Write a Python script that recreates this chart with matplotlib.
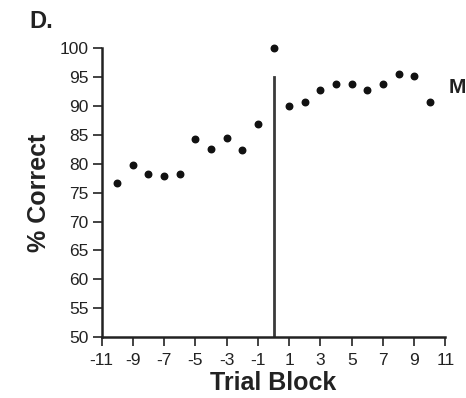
import numpy as np
import matplotlib.pyplot as plt

plt.rcParams['font.family'] = ['Liberation Sans', 'DejaVu Sans']
plt.rcParams['axes.unicode_minus'] = False

# trial blocks and mean % correct
blocks = [-10, -9, -8, -7, -6, -5, -4, -3, -2, -1, 0, 1, 2, 3, 4, 5, 6, 7, 8, 9, 10]
pct_correct = [76.6, 79.8, 78.2, 77.8, 78.3, 84.3, 82.5, 84.5, 82.4, 86.9, 100.0,
               90.0, 90.7, 92.7, 93.8, 93.8, 92.7, 93.8, 95.5, 95.2, 90.7]
xticks = [-11, -9, -7, -5, -3, -1, 1, 3, 5, 7, 9, 11]
yticks = [50, 55, 60, 65, 70, 75, 80, 85, 90, 95, 100]

fig = plt.figure(figsize=(4.66, 3.98), dpi=100)
ax = fig.add_axes([0.218, 0.153, 0.738, 0.726])

ax.scatter(blocks, pct_correct, s=22, color="#111111", zorder=3, clip_on=False)
ax.plot([0, 0], [50, 95], color="#3a3a3a", linewidth=2)

ax.set_xlim(-11, 11)
ax.set_ylim(50, 100)
ax.set_xticks(xticks)
ax.set_yticks(yticks)
ax.tick_params(direction="out", length=6.5, width=1.2, labelsize=12.5, pad=3, colors="#222222")
ax.tick_params(axis="x", pad=5)

for s in ["top", "right"]:
    ax.spines[s].set_visible(False)
for s in ["left", "bottom"]:
    ax.spines[s].set_linewidth(1.8)
    ax.spines[s].set_color("#222222")

ax.set_xlabel("Trial Block", fontsize=18, fontweight="bold", labelpad=2, color="#222222")
ax.set_ylabel("% Correct", fontsize=18, fontweight="bold", labelpad=6, color="#222222")

fig.text(0.062, 0.945, "D.", fontsize=17, fontweight="bold", va="center", color="#222222")
fig.text(0.963, 0.779, "M", fontsize=15, fontweight="bold", va="center", color="#222222")

plt.savefig("out.png", dpi=100)
plt.close()
